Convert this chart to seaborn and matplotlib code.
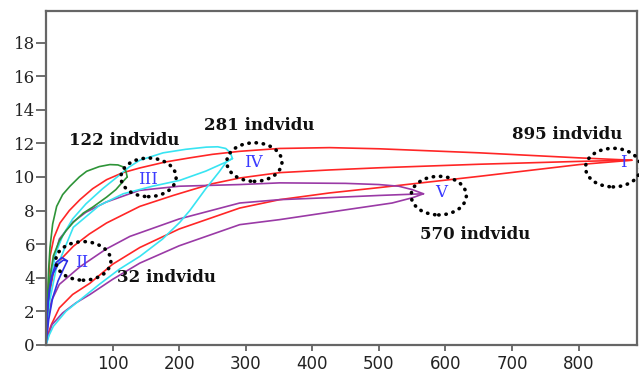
import matplotlib as mpl
import matplotlib.pyplot as plt
from matplotlib.patches import Ellipse
import seaborn as sns
import pandas as pd

# ---- curves (x, y) ----
red_top_x = [0, 2, 6, 12, 21, 35, 51, 70, 91, 115, 141, 180, 216, 250, 291, 351, 426, 501, 651, 801, 880]
red_top_y = [0, 2.5, 5.27, 6.4, 7.26, 8.0, 8.65, 9.3, 9.84, 10.25, 10.54, 10.9, 11.14, 11.35, 11.53, 11.7, 11.75, 11.68, 11.44, 11.14, 11.0]
red_mid_x = [0, 3, 6, 11, 20, 41, 65, 91, 141, 191, 216, 250, 291, 351, 426, 501, 651, 801, 880]
red_mid_y = [0, 2.0, 3.2, 4.27, 5.0, 5.87, 6.6, 7.26, 8.25, 8.9, 9.2, 9.6, 9.94, 10.26, 10.42, 10.55, 10.76, 10.93, 11.0]
red_low_x = [0, 8, 20, 40, 66, 100, 141, 200, 291, 351, 426, 501, 651, 801, 880]
red_low_y = [0.3, 1.2, 2.2, 3.0, 3.67, 4.8, 5.8, 6.9, 8.15, 8.65, 9.05, 9.37, 10.04, 10.74, 11.0]

purple_top_x = [0, 3, 8, 20, 40, 60, 90, 140, 200, 291, 351, 450, 500, 530, 550, 567]
purple_top_y = [0, 2.5, 4.5, 6.3, 7.3, 7.9, 8.5, 9.2, 9.45, 9.55, 9.65, 9.62, 9.55, 9.45, 9.25, 9.0]
purple_mid_x = [0, 3, 8, 20, 51, 90, 126, 200, 291, 351, 426, 500, 567]
purple_mid_y = [0, 1.5, 2.6, 3.6, 4.65, 5.7, 6.46, 7.5, 8.45, 8.65, 8.77, 8.9, 9.0]
purple_low_x = [0, 4, 9, 25, 45, 66, 100, 141, 200, 291, 351, 451, 520, 551, 567]
purple_low_y = [0, 0.6, 1.2, 1.9, 2.5, 3.0, 3.9, 4.87, 5.9, 7.16, 7.46, 8.05, 8.45, 8.77, 9.0]

cyan_top_x = [0, 3, 8, 15, 25, 40, 60, 85, 110, 125, 141, 176, 210, 241, 258, 270, 277, 280]
cyan_top_y = [0, 2.0, 4.2, 5.5, 6.5, 7.5, 8.4, 9.3, 10.1, 10.6, 11.0, 11.44, 11.65, 11.78, 11.8, 11.7, 11.45, 11.1]
cyan_mid_x = [0, 5, 15, 41, 80, 116, 160, 201, 240, 271, 280]
cyan_mid_y = [0, 2.5, 4.5, 7.0, 8.3, 9.0, 9.45, 9.8, 10.35, 10.9, 11.1]
cyan_low_x = [0, 5, 11, 30, 55, 80, 110, 141, 175, 201, 216, 240, 260, 271, 280]
cyan_low_y = [0, 0.6, 1.1, 2.0, 2.8, 3.6, 4.5, 5.27, 6.3, 7.3, 8.0, 9.3, 10.3, 10.9, 11.1]

green_top_x = [0, 2, 4, 6, 10, 16, 25, 36, 50, 61, 80, 96, 108, 116, 120, 122]
green_top_y = [0, 2.5, 4.5, 5.8, 7.2, 8.25, 8.95, 9.45, 10.0, 10.34, 10.62, 10.74, 10.72, 10.6, 10.35, 10.0]
green_low_x = [0, 3, 6, 11, 20, 30, 41, 56, 70, 91, 105, 116, 122]
green_low_y = [0, 2.5, 4.0, 5.3, 6.2, 6.8, 7.3, 7.85, 8.2, 8.8, 9.25, 9.75, 10.0]

blue_a_x = [0, 2, 5, 10, 18, 26, 32]
blue_a_y = [0, 2.0, 3.3, 4.2, 4.8, 5.05, 5.0]
blue_b_x = [0, 4, 10, 18, 26, 32]
blue_b_y = [0, 1.5, 2.8, 3.8, 4.5, 5.0]
blue_c_x = [0, 3, 8, 15, 24, 32]
blue_c_y = [0.5, 2.5, 4.0, 4.9, 5.2, 5.0]

# groups: end point of each bundle and its label
group_names = ['I', 'II', 'III', 'IV', 'V']
group_counts = [895, 32, 122, 281, 570]
circle_x = [852, 56, 154, 313, 590]
circle_y = [10.56, 5.0, 9.98, 10.89, 8.89]
numeral_x = [868, 54, 153, 312, 593]
numeral_y = [10.84, 4.9, 9.85, 10.84, 9.07]
label_x = [783, 181, 117, 321, 645]
label_y = [12.53, 4.0, 12.17, 13.05, 6.6]

curves = [
    ('I', red_top_x, red_top_y), ('I', red_mid_x, red_mid_y), ('I', red_low_x, red_low_y),
    ('V', purple_top_x, purple_top_y), ('V', purple_mid_x, purple_mid_y), ('V', purple_low_x, purple_low_y),
    ('IV', cyan_top_x, cyan_top_y), ('IV', cyan_mid_x, cyan_mid_y), ('IV', cyan_low_x, cyan_low_y),
    ('III', green_top_x, green_top_y), ('III', green_low_x, green_low_y),
    ('II', blue_a_x, blue_a_y), ('II', blue_b_x, blue_b_y), ('II', blue_c_x, blue_c_y),
]

rows = []
for i, (grp, xs, ys) in enumerate(curves):
    for x, y in zip(xs, ys):
        rows.append({'x': x, 'y': y, 'group': grp, 'curve': i})
df = pd.DataFrame(rows)

palette = {'I': '#ff2626', 'V': '#9a3aa6', 'IV': '#38e4f2', 'III': '#2e9438', 'II': '#3030e6'}

sns.set_style('white')
mpl.rcParams['font.family'] = ['DejaVu Sans']

fig, ax = plt.subplots(figsize=(6.39, 3.74), dpi=100)
plt.subplots_adjust(left=0.072, right=0.997, bottom=0.078, top=0.971)

sns.lineplot(data=df, x='x', y='y', hue='group', units='curve', estimator=None, sort=False,
             palette=palette, linewidth=1.2, legend=False, ax=ax)

ax.set_xlim(0, 888)
ax.set_ylim(0, 19.9)
ax.set_xticks([100, 200, 300, 400, 500, 600, 700, 800])
ax.set_yticks(range(0, 19, 2))
ax.set_xlabel('')
ax.set_ylabel('')
ax.tick_params(axis='x', direction='out', length=4.5, width=1.2, color='#555555',
               labelsize=12, labelcolor='#222222', pad=3, bottom=True)
ax.tick_params(axis='y', direction='out', length=7, width=1.2, color='#555555',
               labelsize=12, labelcolor='#222222', pad=1, left=True)
for lab in ax.get_yticklabels():
    lab.set_family('DejaVu Serif')
for sp in ax.spines.values():
    sp.set_color('#666666')
    sp.set_linewidth(1.6)

for name, n, cx, cy, nx, ny, lx, ly in zip(group_names, group_counts, circle_x, circle_y,
                                            numeral_x, numeral_y, label_x, label_y):
    ax.add_patch(Ellipse((cx, cy), width=83, height=2.3, fill=False, edgecolor='black',
                         linewidth=2.6, linestyle=(0, (0.1, 1.9)), capstyle='round',
                         clip_on=False, zorder=5))
    ax.text(nx, ny, name, color='#3a3aff', fontsize=12, family='DejaVu Serif',
            ha='center', va='center', zorder=6)
    ax.text(lx, ly, f'{n} indvidu', color='#111111', fontsize=12, family='DejaVu Serif',
            fontweight='bold', ha='center', va='center', zorder=6)

plt.savefig('out.png', dpi=100)
